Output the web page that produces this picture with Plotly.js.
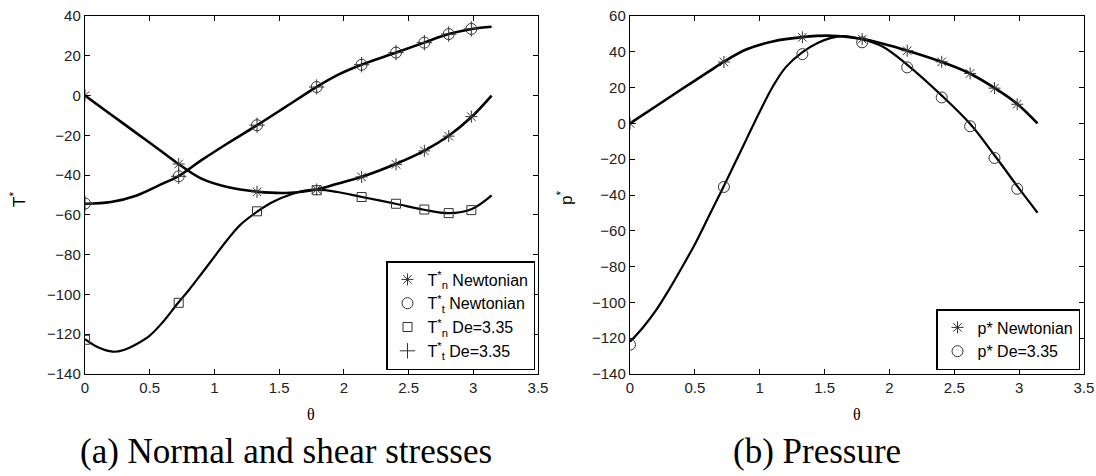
<!DOCTYPE html>
<html>
<head>
<meta charset="utf-8">
<script src="https://cdn.plot.ly/plotly-3.0.1.min.js"></script>
<style>html,body{margin:0;padding:0;background:#fff;}#chart{width:1096px;height:476px;}</style>
</head>
<body>
<div id="chart"></div>
<script>
// ---------- data ----------
// marker positions (theta) shared by all marker series
const thetaMarkers = [0, 0.724, 1.329, 1.79, 2.137, 2.403, 2.622, 2.81, 2.985];

// (a) Normal and shear stresses: markers
const TnNewtMk = [0, -34.4, -48.4, -47.2, -40.9, -34.6, -27.8, -20.4, -10.6];
const TtNewtMk = [-54.3, -40.6, -14.9, 4.3, 15.5, 21.6, 26.6, 30.9, 33.5];
const TnDeMk   = [-122.8, -104.2, -58.2, -47.6, -51.0, -54.4, -57.3, -59.1, -57.6];
const TtDeMk   = [-54.3, -40.6, -14.9, 4.3, 15.5, 21.6, 26.6, 30.9, 33.5];

// (a) curves
const thetaTn = [0, 0.2, 0.4, 0.6, 0.72, 0.9, 1.1, 1.33, 1.55, 1.79, 1.95, 2.14, 2.4, 2.62, 2.81, 2.99, 3.1416];
const TnNewtCurve = [0, -9.5, -19.0, -28.5, -34.3, -41.8, -46.0, -48.3, -49.0, -47.2, -44.3, -40.8, -34.4, -27.8, -20.2, -10.5, 0];
const thetaTt = [0, 0.2, 0.4, 0.6, 0.72, 0.9, 1.1, 1.33, 1.55, 1.79, 1.95, 2.14, 2.4, 2.62, 2.81, 2.99, 3.1416];
const TtCurve = [-54.4, -53.5, -50.2, -44.3, -40.6, -32.5, -24.1, -14.9, -5.7, 4.4, 10.3, 15.6, 21.5, 26.6, 30.9, 33.5, 34.6];
const thetaTnDe = [0, 0.1, 0.215, 0.3, 0.4, 0.5, 0.6, 0.72, 0.8, 0.9, 1.0, 1.1, 1.2, 1.33, 1.45, 1.6, 1.7, 1.8, 1.95, 2.14, 2.4, 2.62, 2.81, 2.99, 3.1416];
const TnDeCurve = [-122.5, -126.6, -128.8, -127.9, -124.9, -120.7, -114.0, -104.2, -98.0, -89.6, -81.0, -72.5, -65.0, -58.4, -53.5, -49.5, -47.8, -47.3, -48.5, -51.0, -54.4, -57.4, -59.1, -57.0, -50.2];

// (b) Pressure: markers
const pNewtMk = [0, 34.3, 48.1, 47.1, 40.6, 34.4, 27.9, 19.7, 10.7];
const pDeMk   = [-123.6, -35.5, 38.7, 45.3, 31.3, 14.5, -1.6, -19.3, -36.5];

// (b) curves
const thetaP = [0, 0.2, 0.4, 0.6, 0.72, 0.9, 1.1, 1.33, 1.55, 1.79, 1.95, 2.14, 2.4, 2.62, 2.81, 2.99, 3.1416];
const pNewtCurve = [0, 9.6, 19.2, 28.6, 34.3, 41.4, 45.8, 48.2, 49.0, 47.1, 44.5, 40.6, 34.4, 27.9, 19.8, 10.6, 0];
const thetaPDe = [0, 0.1, 0.2, 0.3, 0.4, 0.5, 0.6, 0.72, 0.8, 0.9, 1.0, 1.1, 1.2, 1.33, 1.45, 1.55, 1.65, 1.79, 1.95, 2.14, 2.4, 2.62, 2.81, 2.99, 3.1416];
const pDeCurve = [-122, -114, -104.5, -93, -80.5, -67.5, -53, -35.5, -23.5, -8.5, 6.5, 20.5, 31.3, 39.8, 45.0, 47.8, 48.8, 47.0, 42.8, 32.6, 15.8, -0.1, -17.8, -35.5, -49.9];

// labels
const legA = ['T<sup>*</sup><sub>n</sub> Newtonian', 'T<sup>*</sup><sub>t</sub> Newtonian', 'T<sup>*</sup><sub>n</sub> De=3.35', 'T<sup>*</sup><sub>t</sub> De=3.35'];
const legB = ['p* Newtonian', 'p* De=3.35'];
const xTitle = 'θ';
const yTitleA = 'T<sup>*</sup>';
const yTitleB = 'p<sup>*</sup>';
const captionA = '(a) Normal and shear stresses';
const captionB = '(b) Pressure';

// ---------- traces ----------
const W = 1096, H = 476;
const mkColor = '#333';
function line(x, y, xa, ya, w) {
  return {x: x, y: y, xaxis: xa, yaxis: ya, mode: 'lines', type: 'scatter',
          line: {color: '#000', width: w, shape: 'spline', smoothing: 1.0}, showlegend: false, hoverinfo: 'skip'};
}
function marks(y, name, sym, size, xa, ya, leg) {
  return {x: thetaMarkers, y: y, xaxis: xa, yaxis: ya, mode: 'markers', type: 'scatter', name: name,
          legend: leg, marker: {symbol: sym, size: size, color: mkColor, line: {color: mkColor, width: 1}}};
}

const traces = [
  line(thetaTn, TnNewtCurve, 'x', 'y', 2.6),
  line(thetaTt, TtCurve, 'x', 'y', 2.6),
  line(thetaTnDe, TnDeCurve, 'x', 'y', 2.2),
  marks(TnNewtMk, legA[0], 'asterisk-open', 10, 'x', 'y', 'legend'),
  marks(TtNewtMk, legA[1], 'circle-open', 11, 'x', 'y', 'legend'),
  marks(TnDeMk, legA[2], 'square-open', 9, 'x', 'y', 'legend'),
  marks(TtDeMk, legA[3], 'cross-thin-open', 11, 'x', 'y', 'legend'),
  line(thetaP, pNewtCurve, 'x2', 'y2', 2.6),
  line(thetaPDe, pDeCurve, 'x2', 'y2', 2.2),
  marks(pNewtMk, legB[0], 'asterisk-open', 10, 'x2', 'y2', 'legend2'),
  marks(pDeMk, legB[1], 'circle-open', 11, 'x2', 'y2', 'legend2')
];

const tickFont = {family: 'Liberation Sans, Arial, sans-serif', size: 15, color: '#222'};
const axisCommon = {showline: true, linecolor: '#000', linewidth: 1.2, mirror: 'allticks', ticks: 'inside',
                    ticklen: 5, tickwidth: 1, tickcolor: '#000', tickfont: tickFont,
                    showgrid: false, zeroline: false, fixedrange: true};
const yDom = [1 - 374 / H, 1 - 16 / H];

const legendCommon = {bordercolor: '#000', borderwidth: 1.5, bgcolor: '#fff', traceorder: 'normal',
                      font: {family: 'Liberation Sans, Arial, sans-serif', size: 16, color: '#000'},
                      yanchor: 'bottom', xanchor: 'right', itemwidth: 30, tracegroupgap: 0};

function ann(text, x, y, size, family, extra) {
  return Object.assign({text: text, xref: 'paper', yref: 'paper', x: x / W, y: 1 - y / H, showarrow: false,
    xanchor: 'center', yanchor: 'middle', font: {family: family, size: size, color: '#000'}}, extra || {});
}
const serif = 'Liberation Serif, serif';
const sans = 'Liberation Sans, Arial, sans-serif';

const layout = {
  width: W, height: H,
  margin: {l: 0, r: 0, t: 0, b: 0},
  paper_bgcolor: '#fff', plot_bgcolor: '#fff',
  hovermode: false,
  xaxis: Object.assign({}, axisCommon, {domain: [85 / W, 538 / W], range: [0, 3.5], dtick: 0.5, anchor: 'y'}),
  yaxis: Object.assign({}, axisCommon, {domain: yDom, range: [-140, 40], dtick: 20, anchor: 'x'}),
  xaxis2: Object.assign({}, axisCommon, {domain: [630 / W, 1084 / W], range: [0, 3.5], dtick: 0.5, anchor: 'y2'}),
  yaxis2: Object.assign({}, axisCommon, {domain: yDom, range: [-140, 60], dtick: 20, anchor: 'x2'}),
  legend: Object.assign({}, legendCommon, {x: 535 / W, y: 1 - 370 / H}),
  legend2: Object.assign({}, legendCommon, {x: 1080 / W, y: 1 - 370 / H}),
  annotations: [
    ann(xTitle, 311, 414, 16, serif),
    ann(xTitle, 857, 414, 16, serif),
    ann(yTitleA, 18, 200, 17, sans, {textangle: -90}),
    ann(yTitleB, 565, 198, 17, sans, {textangle: -90}),
    ann(captionA, 286, 451, 35, serif),
    ann(captionB, 817, 451, 35, serif)
  ]
};

Plotly.newPlot('chart', traces, layout, {displayModeBar: false, staticPlot: true});
</script>
</body>
</html>
